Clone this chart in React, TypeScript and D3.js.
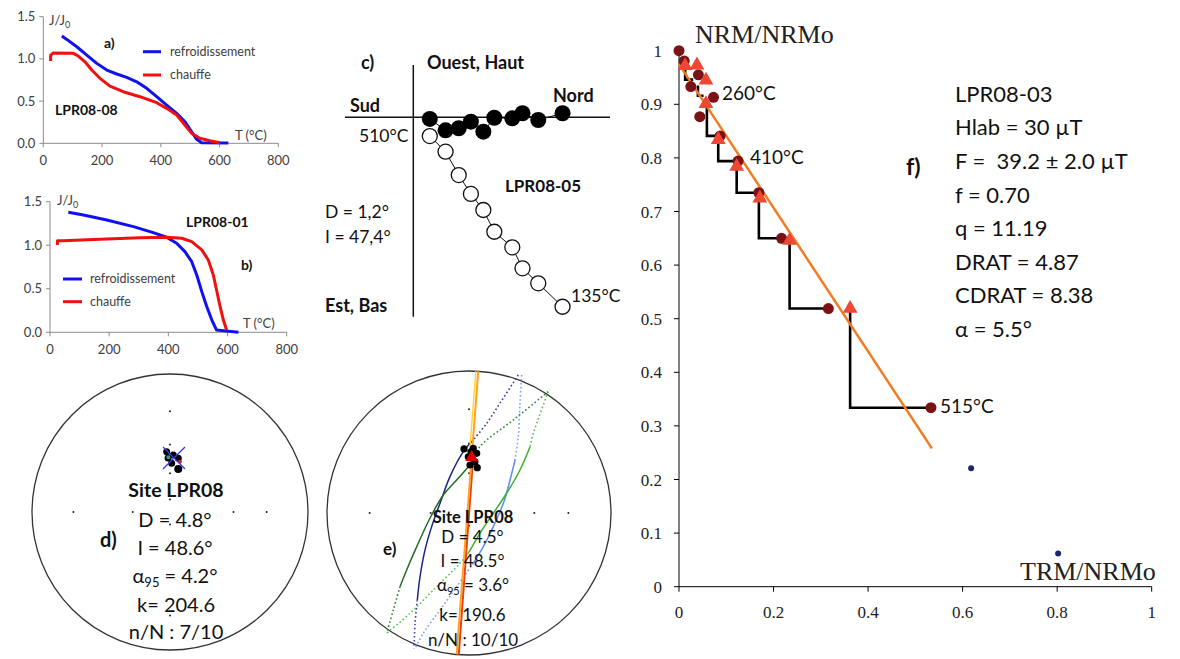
import React from "react";
import * as d3 from "d3";

// ---------------- Panel a (LPR08-08) ----------------
const aCoolT = [63, 80, 114, 148, 182, 216, 250, 284, 318, 352, 386, 420, 454, 482, 505, 522, 539, 630];
const aCoolJ = [1.27, 1.231, 1.144, 1.045, 0.947, 0.868, 0.821, 0.781, 0.729, 0.651, 0.552, 0.453, 0.355, 0.256, 0.137, 0.047, 0.007, 0.005];
const aHeatT = [25, 25, 34, 102, 119, 142, 165, 193, 227, 272, 329, 386, 420, 454, 482, 505, 533, 567, 601];
const aHeatJ = [0.974, 1.045, 1.07, 1.066, 1.034, 0.966, 0.868, 0.77, 0.678, 0.611, 0.552, 0.481, 0.414, 0.335, 0.217, 0.118, 0.059, 0.031, 0.007];

// ---------------- Panel b (LPR08-01) ----------------
const bCoolT = [62, 113, 192, 282, 349, 394, 428, 456, 479, 496, 513, 530, 547, 563, 637];
const bCoolJ = [1.379, 1.348, 1.29, 1.214, 1.145, 1.092, 1.022, 0.926, 0.811, 0.658, 0.467, 0.294, 0.141, 0.026, 0.0];
const bHeatT = [25, 25, 45, 169, 304, 394, 445, 479, 513, 535, 552, 563, 575, 586, 597];
const bHeatJ = [1.003, 1.052, 1.052, 1.069, 1.087, 1.092, 1.08, 1.041, 0.946, 0.831, 0.658, 0.486, 0.294, 0.141, 0.026];

const jTicks = [0, 0.5, 1.0, 1.5];
const tTicks = [0, 200, 400, 600, 800];

// ---------------- Panel c (Zijderveld LPR08-05) ----------------
const zN = [0.11, 0.215, 0.303, 0.384, 0.467, 0.54, 0.66, 0.728, 0.833, 0.995];
const zE = [0.011, 0.087, 0.073, 0.029, 0.096, 0.003, 0.007, -0.027, 0.018, -0.027];
const zZ = [0.125, 0.229, 0.385, 0.511, 0.618, 0.763, 0.867, 1.007, 1.107, 1.263];

// ---------------- Stereonets d / e ----------------
const netDotsX = [0, 0, 0, 0, -0.7, -0.27, 0, 0.46, 0.7, 0];
const netDotsY = [0.73, 0.49, 0.28, 0.09, 0, 0, -0.09, 0, 0, -0.75];

const dDotsX = [0.024, 0.06, 0.012, -0.024, -0.014];
const dDotsY = [0.413, 0.389, 0.353, 0.437, 0.391];
const dBigDot = [0.06, 0.312];
const dMeanX = [0.029];
const dMeanY = [0.391];

const eDotsX = [-0.035, 0.03, 0.054, 0.042, 0.007, 0.058, -0.005, 0.014];
const eDotsY = [0.451, 0.456, 0.42, 0.361, 0.338, 0.319, 0.396, 0.43];
const eMeanX = [0.019];
const eMeanY = [0.392];

const navyDot1 = [[0.347, 0.972], [0.218, 0.773], [0.125, 0.632], [0.03, 0.514]];
const navySolid = [[0.03, 0.514], [-0.04, 0.432], [-0.134, 0.256], [-0.204, 0.068], [-0.263, -0.096], [-0.31, -0.261], [-0.345, -0.449], [-0.364, -0.613]];
const navyDot2 = [[-0.364, -0.613], [-0.38, -0.777], [-0.387, -0.953]];

const dkGreenDot1 = [[0.558, 0.854], [0.312, 0.655], [0.077, 0.467], [0.007, 0.338]];
const dkGreenSolid = [[0.007, 0.338], [-0.087, 0.232], [-0.181, 0.127], [-0.275, -0.037], [-0.368, -0.237], [-0.439, -0.401], [-0.486, -0.519]];
const dkGreenDot2 = [[-0.486, -0.519], [-0.533, -0.683], [-0.58, -0.847]];

const ltGreenDot1 = [[0.558, 0.854], [0.453, 0.561], [0.43, 0.467]];
const ltGreenSolid = [[0.43, 0.467], [0.359, 0.303], [0.265, 0.139], [0.171, -0.002], [0.077, -0.143], [-0.005, -0.284]];
const ltGreenDot2 = [[-0.005, -0.284], [-0.063, -0.354], [-0.251, -0.542], [-0.415, -0.706], [-0.58, -0.847]];

const ltBlueDot1 = [[0.371, 0.972], [0.359, 0.773], [0.347, 0.537], [0.324, 0.373]];
const ltBlueSolid = [[0.324, 0.373], [0.289, 0.232], [0.242, 0.068], [0.171, -0.096], [0.101, -0.237], [0.03, -0.354]];
const ltBlueDot2 = [[0.03, -0.354], [-0.087, -0.519], [-0.204, -0.683], [-0.322, -0.847], [-0.38, -0.953]];

const redLine = [[0.03, 0.4], [-0.072, -0.997]];
const orangeLine = [[0.065, 0.998], [-0.087, -0.996]];
const yellowLine = [[0.048, 0.998], [0.006, 0.45]];

// ---------------- Panel f (Arai LPR08-03) ----------------
const araiX = [0.0, 0.011, 0.041, 0.025, 0.073, 0.044, 0.087, 0.125, 0.169, 0.217, 0.316, 0.533];
const araiY = [1.0, 0.981, 0.955, 0.933, 0.913, 0.877, 0.841, 0.794, 0.735, 0.65, 0.519, 0.334];
const checkX = [0.013, 0.038, 0.057, 0.057, 0.083, 0.122, 0.171, 0.234, 0.362];
const checkY = [0.972, 0.973, 0.945, 0.901, 0.834, 0.784, 0.725, 0.646, 0.519];
const stepX = [0.013, 0.04, 0.059, 0.083, 0.122, 0.169, 0.234, 0.362];
const stepTop = [0.966, 0.935, 0.9, 0.83, 0.78, 0.72, 0.64, 0.515];
const stepBottom = [0.946, 0.916, 0.841, 0.794, 0.735, 0.65, 0.519, 0.334];
const stepEnd = [0.03, 0.052, 0.087, 0.125, 0.169, 0.217, 0.316, 0.533];
const extraX = [0.618, 0.802];
const extraY = [0.221, 0.062];
const regX = [0.0, 0.535];
const regY = [0.975, 0.258];
const fYTicks = [0, 0.1, 0.2, 0.3, 0.4, 0.5, 0.6, 0.7, 0.8, 0.9, 1];
const fXTicks = [0, 0.2, 0.4, 0.6, 0.8, 1];
const fInfo = ["LPR08-03", "Hlab = 30 \u00b5T", "F =  39.2 \u00b1 2.0 \u00b5T", "f = 0.70", "q = 11.19", "DRAT = 4.87", "CDRAT = 8.38", "\u03b1 = 5.5\u00b0"];

const SANS = "Lato, 'Open Sans', sans-serif";
const SERIF = "'Liberation Serif', 'Times New Roman', serif";
const AXC = "#8a8a8a";
const TXC = "#404040";

type Scale = d3.ScaleLinear<number, number>;

function ThermoPanel(props: {
  sx: Scale; sy: Scale; coolT: number[]; coolJ: number[]; heatT: number[]; heatJ: number[]; xLabBase: number;
}) {
  const { sx, sy, coolT, coolJ, heatT, heatJ, xLabBase } = props;
  const x0 = sx(0);
  const y0 = sy(0);
  const mk = (T: number[], J: number[]) =>
    d3.line<number>().x((t) => sx(t)).y((_, i) => sy(J[i])).curve(d3.curveLinear)(T) || "";
  return (
    <g>
      <line x1={x0} x2={x0} y1={sy(0)} y2={sy(1.5)} stroke={AXC} strokeWidth={1} />
      <line x1={sx(0)} x2={sx(800)} y1={y0} y2={y0} stroke={AXC} strokeWidth={1} />
      {jTicks.map((v) => (
        <g key={"j" + v}>
          <line x1={x0 - 4} x2={x0} y1={sy(v)} y2={sy(v)} stroke={AXC} />
          <text x={x0 - 8} y={sy(v) + 4.5} textAnchor="end" fontFamily={SANS} fontSize={13} fill={TXC}>
            {v.toFixed(1)}
          </text>
        </g>
      ))}
      {tTicks.map((v) => (
        <g key={"t" + v}>
          <line x1={sx(v)} x2={sx(v)} y1={y0} y2={y0 + 4} stroke={AXC} />
          <text x={sx(v)} y={xLabBase} textAnchor="middle" fontFamily={SANS} fontSize={13} fill={TXC}>
            {v}
          </text>
        </g>
      ))}
      <path d={mk(coolT, coolJ)} fill="none" stroke="#1010f0" strokeWidth={3} strokeLinejoin="round" />
      <path d={mk(heatT, heatJ)} fill="none" stroke="#f01010" strokeWidth={3} strokeLinejoin="round" />
    </g>
  );
}

function Net(props: { cx: number; cy: number; r: number; children?: any }) {
  const { cx, cy, r } = props;
  const nx = d3.scaleLinear().domain([-1, 1]).range([cx - r, cx + r]);
  const ny = d3.scaleLinear().domain([-1, 1]).range([cy + r, cy - r]);
  return (
    <g>
      <circle cx={cx} cy={cy} r={r} fill="none" stroke="#333" strokeWidth={1.3} />
      {netDotsX.map((v, i) => (
        <circle key={i} cx={nx(v)} cy={ny(netDotsY[i])} r={1} fill="#222" />
      ))}
      {props.children ? props.children(nx, ny) : null}
    </g>
  );
}

export default function App() {
  const ax = d3.scaleLinear().domain([0, 800]).range([43.3, 278.3]);
  const ay = d3.scaleLinear().domain([0, 1.5]).range([143.3, 16.7]);
  const bx = d3.scaleLinear().domain([0, 800]).range([50, 286.7]);
  const by = d3.scaleLinear().domain([0, 1.5]).range([332.3, 201.7]);

  // Zijderveld
  const zOx = 413.3, zOy = 117.3;
  const zs = d3.scaleLinear().domain([0, 1]).range([0, 150]);
  const zLineH = d3.line<number>().x((n) => zOx + zs(n)).y((_, i) => zOy + zs(zE[i]))(zN) || "";
  const zLineV = d3.line<number>().x((n) => zOx + zs(n)).y((_, i) => zOy + zs(zZ[i]))(zN) || "";

  // Arai
  const fx = d3.scaleLinear().domain([0, 1]).range([679, 1151.7]);
  const fy = d3.scaleLinear().domain([0, 1]).range([586.7, 50.7]);
  const tri = d3.symbol(d3.symbolTriangle, 95)() || "";

  const curve = (nx: Scale, ny: Scale, pts: number[][]) =>
    d3.line<number[]>().x((p) => nx(p[0])).y((p) => ny(p[1])).curve(d3.curveCatmullRom.alpha(0.5))(pts) || "";

  const eCurves: { pts: number[][]; color: string; dotted: boolean; w?: number }[] = [
    { pts: navyDot1, color: "#3a3fa8", dotted: true },
    { pts: navySolid, color: "#1f2383", dotted: false },
    { pts: navyDot2, color: "#3a3fa8", dotted: true },
    { pts: ltBlueDot1, color: "#7aa2f2", dotted: true },
    { pts: ltBlueSolid, color: "#5b8ef0", dotted: false },
    { pts: ltBlueDot2, color: "#7aa2f2", dotted: true },
    { pts: dkGreenDot1, color: "#2f8a3a", dotted: true },
    { pts: dkGreenSolid, color: "#1e6e24", dotted: false },
    { pts: dkGreenDot2, color: "#2f8a3a", dotted: true },
    { pts: ltGreenDot1, color: "#58c051", dotted: true },
    { pts: ltGreenSolid, color: "#3cb02e", dotted: false },
    { pts: ltGreenDot2, color: "#58c051", dotted: true },
    { pts: yellowLine, color: "#ffd23a", dotted: false, w: 1.4 },
    { pts: redLine, color: "#e8401c", dotted: false, w: 2 },
    { pts: orangeLine, color: "#ffa31a", dotted: false, w: 2 },
  ];

  const bold = { fontFamily: SANS, fontWeight: 700 as const, fill: "#111" };
  const norm = { fontFamily: SANS, fill: "#111" };

  return (
    <svg
      width={1180}
      height={659}
      viewBox="0 0 1180 659"
      style={{ position: "absolute", left: 0, top: 0, background: "#fff" }}
    >
      <rect x={0} y={0} width={1180} height={659} fill="#fff" />

      {/* ---------- a ---------- */}
      <ThermoPanel sx={ax} sy={ay} coolT={aCoolT} coolJ={aCoolJ} heatT={aHeatT} heatJ={aHeatJ} xLabBase={165} />
      <text x={49} y={25} fontFamily={SANS} fontSize={13} fill={TXC}>
        J/J<tspan fontSize={9} dy={3}>0</tspan>
      </text>
      <text x={235} y={140} fontFamily={SANS} fontSize={13} fill={TXC}>T (°C)</text>
      <text x={104} y={48} {...bold} fontSize={14}>a)</text>
      <line x1={143} x2={161} y1={51.7} y2={51.7} stroke="#1010f0" strokeWidth={3} />
      <text x={170} y={56} fontFamily={SANS} fontSize={12.5} fill={TXC}>refroidissement</text>
      <line x1={143} x2={161} y1={75} y2={75} stroke="#f01010" strokeWidth={3} />
      <text x={170} y={79} fontFamily={SANS} fontSize={12.5} fill={TXC}>chauffe</text>
      <text x={55} y={115} {...bold} fontSize={14}>LPR08-08</text>

      {/* ---------- b ---------- */}
      <ThermoPanel sx={bx} sy={by} coolT={bCoolT} coolJ={bCoolJ} heatT={bHeatT} heatJ={bHeatJ} xLabBase={354} />
      <text x={57} y={205} fontFamily={SANS} fontSize={13} fill={TXC}>
        J/J<tspan fontSize={9} dy={3}>0</tspan>
      </text>
      <text x={243} y={328} fontFamily={SANS} fontSize={13} fill={TXC}>T (°C)</text>
      <text x={186} y={226.7} {...bold} fontSize={14}>LPR08-01</text>
      <text x={241} y={270} {...bold} fontSize={14}>b)</text>
      <line x1={63} x2={82} y1={279} y2={279} stroke="#1010f0" strokeWidth={3} />
      <text x={90} y={283} fontFamily={SANS} fontSize={12.5} fill={TXC}>refroidissement</text>
      <line x1={63} x2={82} y1={301.7} y2={301.7} stroke="#f01010" strokeWidth={3} />
      <text x={90} y={306} fontFamily={SANS} fontSize={12.5} fill={TXC}>chauffe</text>

      {/* ---------- c ---------- */}
      <line x1={345} x2={610} y1={zOy} y2={zOy} stroke="#111" strokeWidth={1.5} />
      <line x1={zOx} x2={zOx} y1={65} y2={316.7} stroke="#111" strokeWidth={1.5} />
      <path d={zLineV} fill="none" stroke="#111" strokeWidth={1} />
      <path d={zLineH} fill="none" stroke="#111" strokeWidth={1} />
      {zN.map((n, i) => (
        <circle key={"o" + i} cx={zOx + zs(n)} cy={zOy + zs(zZ[i])} r={7.5} fill="#fff" stroke="#111" strokeWidth={1.3} />
      ))}
      {zN.map((n, i) => (
        <circle key={"f" + i} cx={zOx + zs(n)} cy={zOy + zs(zE[i])} r={8} fill="#000" />
      ))}
      <text x={361} y={69} {...bold} fontSize={18}>c)</text>
      <text x={427} y={69} {...bold} fontSize={18}>Ouest, Haut</text>
      <text x={350} y={112} {...bold} fontSize={18}>Sud</text>
      <text x={553} y={102} {...bold} fontSize={18}>Nord</text>
      <text x={359} y={142} {...norm} fontSize={17.5}>510°C</text>
      <text x={505} y={192} {...bold} fontSize={17}>LPR08-05</text>
      <text x={325} y={218} {...norm} fontSize={17.5}>D = 1,2°</text>
      <text x={325} y={243} {...norm} fontSize={17.5}>I = 47,4°</text>
      <text x={571} y={302} {...norm} fontSize={17.5}>135°C</text>
      <text x={325} y={312} {...bold} fontSize={18}>Est, Bas</text>

      {/* ---------- d ---------- */}
      <Net cx={170} cy={512} r={138}>
        {(nx: Scale, ny: Scale) => (
          <g>
            {dDotsX.map((v, i) => (
              <circle key={i} cx={nx(v)} cy={ny(dDotsY[i])} r={3.5} fill="#000" />
            ))}
            <circle cx={nx(dBigDot[0])} cy={ny(dBigDot[1])} r={4} fill="#000" />
            <circle cx={nx(0.072)} cy={ny(0.364)} r={2} fill="#e02020" />
            <circle cx={nx(-0.012)} cy={ny(0.396)} r={2} fill="#20a0a0" />
            {dMeanX.map((v, i) => (
              <g key={"m" + i} stroke="#3a3ae0" strokeWidth={1.3}>
                <line x1={nx(v) - 11} x2={nx(v) + 11} y1={ny(dMeanY[i]) - 11} y2={ny(dMeanY[i]) + 11} />
                <line x1={nx(v) - 11} x2={nx(v) + 11} y1={ny(dMeanY[i]) + 11} y2={ny(dMeanY[i]) - 11} />
              </g>
            ))}
          </g>
        )}
      </Net>
      <g textAnchor="middle">
        <text x={176} y={497} {...bold} fontSize={19.5}>Site LPR08</text>
        <text x={175} y={527} {...norm} fontSize={20}>D = 4.8°</text>
        <text x={175} y={555} {...norm} fontSize={20}>I = 48.6°</text>
        <text x={175} y={583} {...norm} fontSize={20}>
          α<tspan fontSize={13} dy={4}>95</tspan><tspan dy={-4}> = 4.2°</tspan>
        </text>
        <text x={176} y={611.5} {...norm} fontSize={20}>k= 204.6</text>
        <text x={176} y={639} {...norm} fontSize={20}>n/N : 7/10</text>
      </g>
      <text x={100} y={547} {...bold} fontSize={20}>d)</text>

      {/* ---------- e ---------- */}
      <Net cx={469} cy={513} r={142}>
        {(nx: Scale, ny: Scale) => (
          <g>
            {eCurves.map((c, i) => (
              <path
                key={i}
                d={curve(nx, ny, c.pts)}
                fill="none"
                stroke={c.color}
                strokeWidth={c.w ?? (c.dotted ? 1.6 : 1.5)}
                strokeDasharray={c.dotted ? "1.6 2.4" : undefined}
              />
            ))}
            {eDotsX.map((v, i) => (
              <circle key={"ed" + i} cx={nx(v)} cy={ny(eDotsY[i])} r={3.6} fill="#000" />
            ))}
            {eMeanX.map((v, i) => (
              <path key={"em" + i} d={d3.symbol(d3.symbolTriangle, 70)() || ""} transform={`translate(${nx(v)},${ny(eMeanY[i])})`} fill="#e00000" />
            ))}
          </g>
        )}
      </Net>
      <g textAnchor="middle">
        <text x={473} y={523} {...bold} fontSize={16.5}>Site LPR08</text>
        <text x={472.5} y={543} {...norm} fontSize={17}>D = 4.5°</text>
        <text x={472.5} y={567} {...norm} fontSize={17}>I = 48.5°</text>
        <text x={473} y={591} {...norm} fontSize={17}>
          α<tspan fontSize={11} dy={4}>95</tspan><tspan dy={-4}> = 3.6°</tspan>
        </text>
        <text x={472.5} y={621} {...norm} fontSize={17}>k= 190.6</text>
        <text x={473} y={646} {...norm} fontSize={17}>n/N : 10/10</text>
      </g>
      <text x={383} y={555} {...bold} fontSize={17}>e)</text>

      {/* ---------- f ---------- */}
      <line x1={fx(0)} x2={fx(0)} y1={fy(0)} y2={fy(1)} stroke="#000" strokeWidth={1} />
      <line x1={fx(0)} x2={fx(1)} y1={fy(0)} y2={fy(0)} stroke="#000" strokeWidth={1} />
      {fYTicks.map((v) => (
        <g key={"fy" + v}>
          <line x1={fx(0) - 5} x2={fx(0)} y1={fy(v)} y2={fy(v)} stroke="#000" />
          <text x={662} y={fy(v) + 6} textAnchor="end" fontFamily={SERIF} fontSize={17} fill="#222">
            {String(v)}
          </text>
        </g>
      ))}
      {fXTicks.map((v) => (
        <g key={"fx" + v}>
          <line x1={fx(v)} x2={fx(v)} y1={fy(0)} y2={fy(0) + 5} stroke="#000" />
          <text x={fx(v)} y={618} textAnchor="middle" fontFamily={SERIF} fontSize={17} fill="#222">
            {String(v)}
          </text>
        </g>
      ))}
      <text x={695} y={43} fontFamily={SERIF} fontSize={26} fill="#222">NRM/NRMo</text>
      <text x={1020} y={580} fontFamily={SERIF} fontSize={26} fill="#222">TRM/NRMo</text>

      {stepX.map((v, i) => (
        <path
          key={"s" + i}
          d={`M${fx(v)},${fy(stepTop[i])}V${fy(stepBottom[i])}H${fx(stepEnd[i])}`}
          fill="none"
          stroke="#000"
          strokeWidth={2.6}
        />
      ))}
      <path
        d={d3.line<number>().x((v) => fx(v)).y((_, i) => fy(regY[i]))(regX) || ""}
        stroke="#f47a20"
        strokeWidth={2.5}
        fill="none"
      />
      {araiX.map((v, i) => (
        <circle key={"c" + i} cx={fx(v)} cy={fy(araiY[i])} r={5.5} fill="#7a1216" />
      ))}
      {checkX.map((v, i) => (
        <path key={"t" + i} d={tri} transform={`translate(${fx(v)},${fy(checkY[i])})`} fill="#f04634" />
      ))}
      {extraX.map((v, i) => (
        <circle key={"x" + i} cx={fx(v)} cy={fy(extraY[i])} r={3} fill="#1c2470" />
      ))}
      <text x={722} y={100} {...norm} fontSize={19}>260°C</text>
      <text x={750} y={164} {...norm} fontSize={19}>410°C</text>
      <text x={940} y={413} {...norm} fontSize={19}>515°C</text>

      <text x={906} y={175} {...bold} fontSize={23}>f)</text>
      {fInfo.map((s, i) => (
        <text key={"fi" + i} x={955} y={101.7 + i * 33.6} {...norm} fontSize={22} style={{ whiteSpace: "pre" }}>
          {s}
        </text>
      ))}
    </svg>
  );
}
